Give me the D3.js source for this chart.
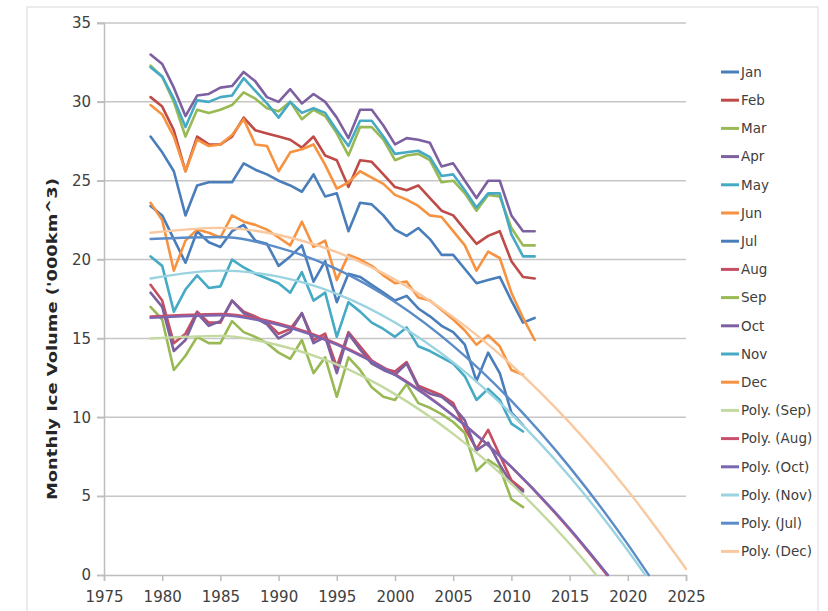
<!DOCTYPE html>
<html><head><meta charset="utf-8">
<script src="https://cdn.jsdelivr.net/npm/d3@7"></script>
<style>body{margin:0;background:#fff}svg{display:block}</style>
</head><body>
<svg id="c" width="828" height="611"></svg>
<script>
const years = d3.range(1979, 2013);
const monthNames = ["Jan","Feb","Mar","Apr","May","Jun","Jul","Aug","Sep","Oct","Nov","Dec"];
const jan = [27.8,26.8,25.6,22.8,24.7,24.9,24.9,24.9,26.1,25.7,25.4,25.0,24.7,24.3,25.4,24.0,24.2,21.8,23.6,23.5,22.8,21.9,21.5,22.0,21.3,20.3,20.3,19.4,18.5,18.7,18.9,17.4,16.0,16.3];
const feb = [30.3,29.7,28.2,25.6,27.8,27.3,27.3,27.8,29.0,28.2,28.0,27.8,27.6,27.1,27.8,26.6,26.3,24.6,26.3,26.2,25.4,24.6,24.4,24.7,23.9,23.1,22.8,21.9,21.0,21.5,21.8,19.9,18.9,18.8];
const mar = [32.3,31.6,30.0,27.8,29.5,29.3,29.5,29.8,30.6,30.2,29.6,29.4,30.0,28.9,29.5,29.1,28.0,26.6,28.4,28.4,27.6,26.3,26.6,26.7,26.3,24.9,25.0,24.2,23.1,24.1,24.0,22.0,20.9,20.9];
const apr = [33.0,32.4,30.9,29.1,30.4,30.5,30.9,31.0,31.9,31.3,30.3,30.0,30.8,29.9,30.5,30.0,29.0,27.7,29.5,29.5,28.5,27.3,27.7,27.6,27.4,25.9,26.1,25.0,23.9,25.0,25.0,22.8,21.8,21.8];
const may = [32.2,31.6,30.2,28.4,30.1,30.0,30.3,30.4,31.5,30.7,29.9,29.0,30.0,29.3,29.6,29.3,28.2,27.2,28.8,28.8,27.8,26.7,26.8,26.9,26.5,25.3,25.4,24.4,23.3,24.2,24.2,21.6,20.2,20.2];
const jun = [29.8,29.2,27.8,25.6,27.6,27.2,27.3,27.9,28.9,27.3,27.2,25.6,26.8,27.0,27.3,26.0,24.5,24.9,25.6,25.2,24.8,24.1,23.8,23.4,22.8,22.7,21.8,20.9,19.3,20.5,20.1,17.9,16.3,14.9];
const jul = [23.4,22.8,21.3,19.8,21.8,21.1,20.8,21.8,22.2,21.2,21.0,19.6,20.2,20.9,18.6,19.9,17.3,19.1,18.9,18.4,17.9,17.4,17.7,16.9,16.4,15.8,15.4,14.6,12.3,14.1,12.8,10.3,9.5];
const aug = [18.4,17.4,14.7,15.3,16.7,16.0,16.0,17.4,16.7,16.4,16.0,15.3,15.6,16.6,14.9,15.3,13.2,15.4,14.5,13.6,13.1,12.9,13.5,12.0,11.7,11.4,10.9,9.3,8.0,9.2,7.6,6.0,5.4];
const sep = [17.0,16.2,13.0,13.9,15.1,14.7,14.7,16.1,15.4,15.1,14.7,14.1,13.7,14.9,12.8,13.8,11.3,13.8,13.0,11.9,11.3,11.1,12.1,10.9,10.6,10.2,9.7,9.0,6.6,7.3,6.8,4.8,4.3];
const oct = [17.9,17.0,14.2,14.9,16.6,15.8,16.1,17.4,16.6,16.3,15.9,15.0,15.4,16.6,14.7,15.1,12.8,15.3,14.3,13.4,13.0,12.7,13.4,11.9,11.5,11.3,10.7,9.8,7.9,8.4,7.0,5.8,5.3];
const nov = [20.2,19.6,16.7,18.1,19.0,18.2,18.3,20.0,19.5,19.1,18.8,18.5,17.9,19.2,17.4,17.9,15.1,17.3,16.7,16.0,15.6,15.1,15.7,14.5,14.2,13.8,13.4,12.6,11.1,11.8,11.1,9.6,9.1];
const dec = [23.6,22.5,19.3,21.2,21.9,21.7,21.4,22.8,22.4,22.2,21.9,21.4,20.9,22.4,20.8,21.2,18.7,20.3,20.0,19.6,19.0,18.5,18.6,17.6,17.4,16.8,16.2,15.5,14.6,15.2,14.5,13.0,12.7];

// trend lines (Poly.) at a few years
const polySepYears = [1979,1985,1990,1995,2000,2005,2010,2015,2017.3];
const polySepValues = [15.0,15.16,14.57,13.35,11.47,8.95,5.79,1.98,0];
const polyAugYears = [1979,1985,1990,1995,2000,2005,2010,2015,2018.2];
const polyAugValues = [16.4,16.56,15.96,14.68,12.74,10.12,6.84,2.88,0];
const polyOctYears = [1979,1985,1990,1995,2000,2005,2010,2015,2018.3];
const polyOctValues = [16.3,16.46,15.86,14.60,12.68,10.10,6.85,2.95,0];
const polyNovYears = [1979,1985,1990,1995,2000,2005,2010,2015,2020,2021.5];
const polyNovValues = [18.8,19.30,18.92,17.83,16.01,13.48,10.22,6.25,1.55,0];
const polyJulYears = [1979,1985,1990,1995,2000,2005,2010,2015,2020,2021.8];
const polyJulValues = [21.3,21.43,20.76,19.39,17.31,14.53,11.04,6.84,1.94,0];
const polyDecYears = [1979,1985,1990,1995,2000,2005,2010,2015,2020,2025];
const polyDecValues = [21.7,22.01,21.56,20.47,18.73,16.35,13.33,9.66,5.35,0.4];

const xTicks = [1975,1980,1985,1990,1995,2000,2005,2010,2015,2020,2025];
const yTicks = [0,5,10,15,20,25,30,35];

const monthColors = ["#4A7EBB","#BE4B48","#98B954","#7D60A0","#46AAC5","#F69240","#4A7EBB","#C44F63","#98B954","#7D60A0","#46AAC5","#F69240"];
const monthSeries = [jan,feb,mar,apr,may,jun,jul,aug,sep,oct,nov,dec];
const polyDefs = [
  {name:"Poly. (Sep)", years:polySepYears, values:polySepValues, color:"#C4D9A0"},
  {name:"Poly. (Aug)", years:polyAugYears, values:polyAugValues, color:"#C8506E"},
  {name:"Poly. (Oct)", years:polyOctYears, values:polyOctValues, color:"#7A66B0"},
  {name:"Poly. (Nov)", years:polyNovYears, values:polyNovValues, color:"#9BD3E0"},
  {name:"Poly. (Jul)", years:polyJulYears, values:polyJulValues, color:"#5B8CC8"},
  {name:"Poly. (Dec)", years:polyDecYears, values:polyDecValues, color:"#F9C89E"}
];

const svg = d3.select("#c");
svg.append("rect").attr("x",27).attr("y",7).attr("width",791).attr("height",610)
  .attr("fill","#fff").attr("stroke","#D9D9D9").attr("stroke-width",1);

const x = d3.scaleLinear().domain([1975,2025]).range([104,686]);
const y = d3.scaleLinear().domain([0,35]).range([575,23]);

// gridlines
svg.append("g").selectAll("line").data(yTicks.filter(d=>d>0)).join("line")
  .attr("x1",97).attr("x2",686).attr("y1",d=>y(d)).attr("y2",d=>y(d))
  .attr("stroke","#C6C6C6").attr("stroke-width",1.5);

// y axis
const ya = svg.append("g").attr("transform","translate(104,0)")
  .call(d3.axisLeft(y).tickValues(yTicks).tickSize(7).tickPadding(6));
ya.select(".domain").attr("stroke","#BDBDBD").attr("stroke-width",1.5);
ya.selectAll(".tick line").attr("stroke","#BDBDBD").attr("stroke-width",1.5);
ya.selectAll("text").attr("font-family","DejaVu Sans").attr("font-size",15).attr("fill","#404040");

// x axis
const xa = svg.append("g").attr("transform","translate(0,575)")
  .call(d3.axisBottom(x).tickValues(xTicks).tickFormat(d3.format("d")).tickSize(6).tickPadding(10));
xa.select(".domain").attr("stroke","#BDBDBD").attr("stroke-width",1.5);
xa.selectAll(".tick line").attr("stroke","#BDBDBD").attr("stroke-width",1.5);
xa.selectAll("text").attr("font-family","DejaVu Sans").attr("font-size",15).attr("fill","#404040");

// y title
svg.append("text").attr("transform","translate(57,339) rotate(-90)")
  .attr("text-anchor","middle").attr("font-family","DejaVu Sans").attr("font-weight","bold")
  .attr("font-size",14).attr("fill","#262626").attr("textLength",322).attr("lengthAdjust","spacingAndGlyphs")
  .text("Monthly Ice Volume ('000km^3)");

const line = d3.line().x((d,i)=>x(d[0])).y(d=>y(d[1]));
const g = svg.append("g").attr("fill","none").attr("stroke-linejoin","round").attr("stroke-linecap","round");
monthSeries.forEach((vals,i)=>{
  g.append("path").datum(vals.map((v,j)=>[years[j],v]))
    .attr("d",line).attr("stroke",monthColors[i]).attr("stroke-width",2.6);
});
const curve = d3.line().x(d=>x(d[0])).y(d=>y(d[1])).curve(d3.curveMonotoneX);
polyDefs.forEach(p=>{
  g.append("path").datum(p.years.map((yr,j)=>[yr,p.values[j]]))
    .attr("d",curve).attr("stroke",p.color).attr("stroke-width",2.4);
});

// legend
const legendItems = monthNames.map((m,i)=>({name:m,color:monthColors[i]}))
  .concat(polyDefs.map(p=>({name:p.name,color:p.color})));
const lg = svg.append("g");
legendItems.forEach((it,i)=>{
  const yy = 72 + i*28.2;
  lg.append("line").attr("x1",721).attr("x2",739).attr("y1",yy).attr("y2",yy)
    .attr("stroke",it.color).attr("stroke-width",3);
  lg.append("text").attr("x",741).attr("y",yy).attr("dy","0.35em")
    .attr("font-family","DejaVu Sans").attr("font-size",13.5).attr("fill","#404040").text(it.name);
});
</script>
</body></html>
